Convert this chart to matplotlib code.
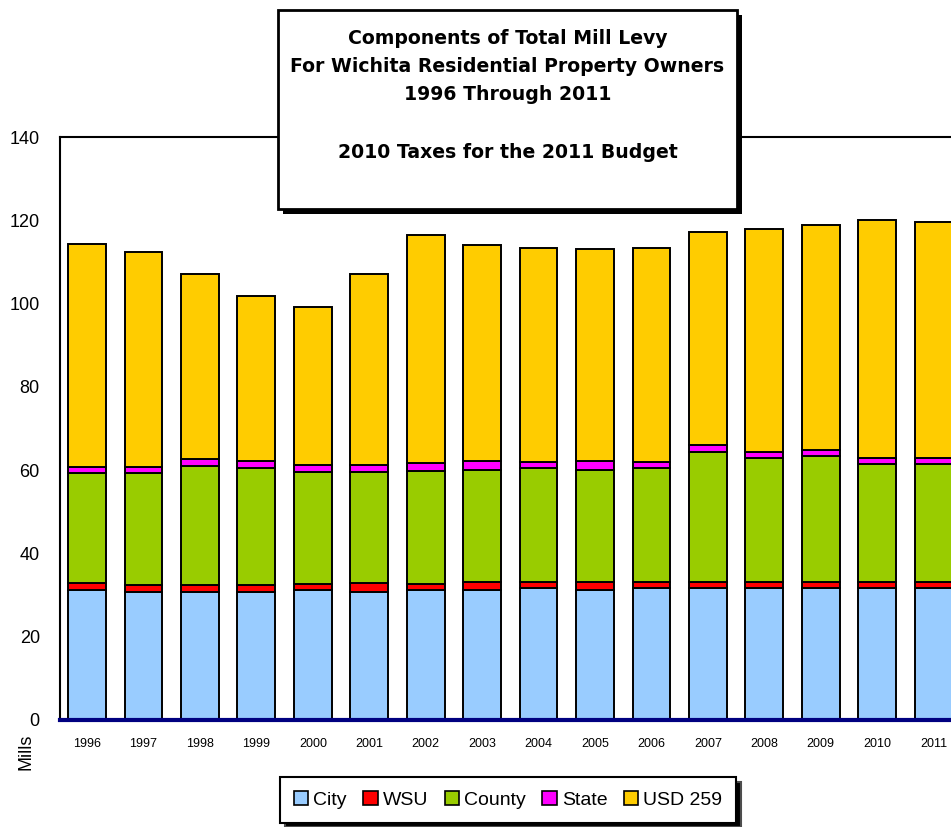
import matplotlib
matplotlib.use("Agg")
import matplotlib.pyplot as plt
from matplotlib.patches import Rectangle, Patch
import numpy as np

plt.rcParams['font.family'] = ['Liberation Sans', 'DejaVu Sans']

years = ["1996", "1997", "1998", "1999", "2000", "2001", "2002", "2003",
         "2004", "2005", "2006", "2007", "2008", "2009", "2010", "2011"]
city = [31.2, 30.7, 30.7, 30.7, 31.2, 30.7, 31.2, 31.2,
        31.6, 31.2, 31.6, 31.6, 31.6, 31.6, 31.6, 31.6]
wsu = [1.6, 1.6, 1.6, 1.6, 1.5, 2.1, 1.5, 2.0,
       1.5, 2.0, 1.5, 1.5, 1.5, 1.5, 1.5, 1.5]
county = [26.5, 26.9, 28.6, 28.2, 26.9, 26.8, 27.0, 26.9,
          27.4, 26.9, 27.4, 31.2, 29.9, 30.3, 28.4, 28.4]
state = [1.4, 1.6, 1.8, 1.7, 1.7, 1.7, 2.0, 2.0,
         1.5, 2.0, 1.5, 1.7, 1.4, 1.5, 1.5, 1.5]
usd259 = [53.6, 51.6, 44.5, 39.7, 37.8, 45.9, 54.8, 51.9,
          51.4, 50.9, 51.4, 51.3, 53.4, 54.0, 57.0, 56.6]

series = [("City", city, "#99CCFF"),
          ("WSU", wsu, "#FF0000"),
          ("County", county, "#99CC00"),
          ("State", state, "#FF00FF"),
          ("USD 259", usd259, "#FFCC00")]

W, H = 951, 827
fig = plt.figure(figsize=(W / 100, H / 100), dpi=100)
fig.patch.set_facecolor("white")

# plot area (right edge runs past the figure border)
left, right, top, bottom = 60, 963, 137, 720
ax = fig.add_axes([left / W, 1 - bottom / H, (right - left) / W, (bottom - top) / H])

x = np.arange(len(years))
base = np.zeros(len(years))
for name, vals, col in series:
    ax.bar(x, vals, width=0.67, bottom=base, color=col, edgecolor="black",
           linewidth=1.4, zorder=2)
    base += np.array(vals)

ax.set_xlim(-0.48, len(years) - 0.48)
ax.set_ylim(0, 140)
ax.set_yticks(range(0, 141, 20))
ax.set_xticks(x)
ax.set_xticklabels(years, fontsize=9)
ax.tick_params(axis="y", length=0, pad=14.5, labelsize=13)
ax.tick_params(axis="x", length=0, pad=13)
for s in ("left", "top", "right"):
    ax.spines[s].set_color("black")
    ax.spines[s].set_linewidth(1.5)
ax.spines["bottom"].set_visible(False)
ax.axhline(0, color="#000080", linewidth=3, zorder=3, clip_on=False)

fig.text(26 / W, 1 - 752 / H, "Mills", rotation=90, ha="center", va="center",
         fontsize=13)

# title box with a solid drop shadow
bx0, by0, bx1, by1 = 278, 10, 737, 209
fig.add_artist(Rectangle(((bx0 + 5) / W, 1 - (by1 + 5) / H), (bx1 - bx0) / W,
                         (by1 - by0) / H, transform=fig.transFigure,
                         facecolor="black", edgecolor="none", zorder=5))
fig.add_artist(Rectangle((bx0 / W, 1 - by1 / H), (bx1 - bx0) / W,
                         (by1 - by0) / H, transform=fig.transFigure,
                         facecolor="white", edgecolor="black", linewidth=2,
                         zorder=6))
cx = (bx0 + bx1) / 2 / W
title_lines = [("Components of Total Mill Levy", 38),
               ("For Wichita Residential Property Owners", 67),
               ("1996 Through 2011", 95),
               ("2010 Taxes for the 2011 Budget", 153)]
for txt, ypx in title_lines:
    fig.text(cx, 1 - ypx / H, txt, ha="center", va="center", fontsize=13.6,
             fontweight="bold", family="DejaVu Sans", zorder=7)

# legend
handles = [Patch(facecolor=c, edgecolor="black", linewidth=1.2, label=n)
           for n, _, c in series]
leg = fig.legend(handles=handles, loc="center", bbox_to_anchor=(508 / W, 1 - 800 / H),
                 ncol=5, fontsize=14, frameon=True, fancybox=False,
                 handlelength=0.75, handleheight=0.75, handletextpad=0.25,
                 columnspacing=0.85, borderpad=0.7,
                 shadow={"ox": 3.5, "oy": -3.5, "facecolor": "black", "alpha": 1})
leg.get_frame().set_edgecolor("black")
leg.get_frame().set_linewidth(1.5)

fig.savefig("out.png", dpi=100)
